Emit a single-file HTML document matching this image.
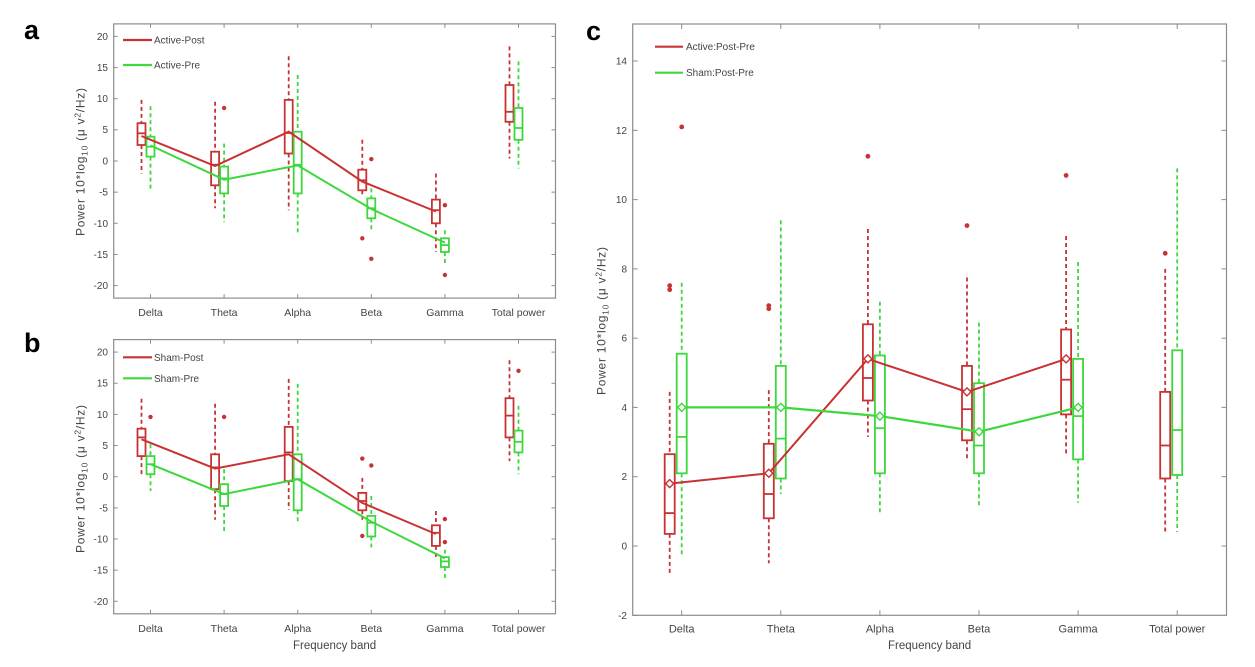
<!DOCTYPE html>
<html><head><meta charset="utf-8"><style>
html,body{margin:0;padding:0;background:#fff;}
svg{display:block;}
text{font-family:"Liberation Sans",Arial,sans-serif;fill:#444;}
.ax{fill:none;stroke:#8c8c8c;stroke-width:1.2;}
.tk{stroke:#8c8c8c;stroke-width:1;}
.r{stroke:#c83232;fill:none;stroke-width:1.8;}
.g{stroke:#3cd83c;fill:none;stroke-width:1.8;}
.d{stroke-dasharray:4 3;}
.ro{fill:#c83232;}
.go{fill:#3cd83c;}
.lab{font-size:10px;}
.xl{font-size:10.5px;text-anchor:middle;}
.yl{font-size:10px;text-anchor:end;}
</style></head><body>
<svg width="1255" height="667" viewBox="0 0 1255 667" xmlns="http://www.w3.org/2000/svg">
<rect width="1255" height="667" fill="#fff"/>

<!-- panel letters -->
<text x="24" y="39" style="font-size:27px;font-weight:bold;fill:#000">a</text>
<text x="24" y="352" style="font-size:27px;font-weight:bold;fill:#000">b</text>
<text x="586" y="40" style="font-size:27px;font-weight:bold;fill:#000">c</text>

<!-- ================= PANEL A ================= -->
<rect class="ax" x="113.7" y="23.9" width="441.8" height="274.2"/>
<g class="tk">
<line x1="113.7" x2="117.7" y1="36.4" y2="36.4"/><line x1="113.7" x2="117.7" y1="67.55" y2="67.55"/><line x1="113.7" x2="117.7" y1="98.7" y2="98.7"/><line x1="113.7" x2="117.7" y1="129.85" y2="129.85"/><line x1="113.7" x2="117.7" y1="161" y2="161"/><line x1="113.7" x2="117.7" y1="192.15" y2="192.15"/><line x1="113.7" x2="117.7" y1="223.3" y2="223.3"/><line x1="113.7" x2="117.7" y1="254.45" y2="254.45"/><line x1="113.7" x2="117.7" y1="285.6" y2="285.6"/>
<line x1="551.5" x2="555.5" y1="36.4" y2="36.4"/><line x1="551.5" x2="555.5" y1="67.55" y2="67.55"/><line x1="551.5" x2="555.5" y1="98.7" y2="98.7"/><line x1="551.5" x2="555.5" y1="129.85" y2="129.85"/><line x1="551.5" x2="555.5" y1="161" y2="161"/><line x1="551.5" x2="555.5" y1="192.15" y2="192.15"/><line x1="551.5" x2="555.5" y1="223.3" y2="223.3"/><line x1="551.5" x2="555.5" y1="254.45" y2="254.45"/><line x1="551.5" x2="555.5" y1="285.6" y2="285.6"/>
<line x1="150.5" x2="150.5" y1="298.1" y2="294.1"/><line x1="224.1" x2="224.1" y1="298.1" y2="294.1"/><line x1="297.7" x2="297.7" y1="298.1" y2="294.1"/><line x1="371.3" x2="371.3" y1="298.1" y2="294.1"/><line x1="444.9" x2="444.9" y1="298.1" y2="294.1"/><line x1="518.5" x2="518.5" y1="298.1" y2="294.1"/>
<line x1="150.5" x2="150.5" y1="23.9" y2="27.9"/><line x1="224.1" x2="224.1" y1="23.9" y2="27.9"/><line x1="297.7" x2="297.7" y1="23.9" y2="27.9"/><line x1="371.3" x2="371.3" y1="23.9" y2="27.9"/><line x1="444.9" x2="444.9" y1="23.9" y2="27.9"/><line x1="518.5" x2="518.5" y1="23.9" y2="27.9"/>
</g>
<g class="yl">
<text x="108" y="40">20</text><text x="108" y="71">15</text><text x="108" y="102">10</text><text x="108" y="133">5</text><text x="108" y="164.5">0</text><text x="108" y="195.5">-5</text><text x="108" y="227">-10</text><text x="108" y="258">-15</text><text x="108" y="289">-20</text>
</g>
<g class="xl">
<text x="150.5" y="316">Delta</text><text x="224.1" y="316">Theta</text><text x="297.7" y="316">Alpha</text><text x="371.3" y="316">Beta</text><text x="444.9" y="316">Gamma</text><text x="518.5" y="316">Total power</text>
</g>
<text transform="translate(84.5,162) rotate(-90)" style="font-size:12px;text-anchor:middle" textLength="148">Power 10*log<tspan style="font-size:8.5px" dy="3">10</tspan><tspan dy="-3"> (μ v</tspan><tspan style="font-size:8.5px" dy="-4">2</tspan><tspan dy="4">/Hz)</tspan></text>
<!-- legend a -->
<line x1="123" x2="152" y1="40" y2="40" class="r" style="stroke-width:2.2"/>
<text x="154" y="43.5" class="lab">Active-Post</text>
<line x1="123" x2="152" y1="65" y2="65" class="g" style="stroke-width:2.2"/>
<text x="154" y="68.5" class="lab">Active-Pre</text>

<!-- red boxes a -->
<g class="r">
<rect x="137.5" y="123.2" width="8" height="21.8"/><line x1="137.5" x2="145.5" y1="133.3" y2="133.3"/>
<line class="d" x1="141.5" x2="141.5" y1="99.9" y2="123.2"/><line class="d" x1="141.5" x2="141.5" y1="145" y2="173.5"/>
<rect x="211.1" y="151.7" width="8" height="33.6"/><line x1="211.1" x2="219.1" y1="164.7" y2="164.7"/>
<line class="d" x1="215.1" x2="215.1" y1="101.8" y2="151.7"/><line class="d" x1="215.1" x2="215.1" y1="185.3" y2="208.3"/>
<rect x="284.7" y="99.9" width="8" height="53.6"/><line x1="284.7" x2="292.7" y1="133" y2="133"/>
<line class="d" x1="288.7" x2="288.7" y1="56.3" y2="99.9"/><line class="d" x1="288.7" x2="288.7" y1="153.5" y2="210.2"/>
<rect x="358.3" y="169.7" width="8" height="20.6"/><line x1="358.3" x2="366.3" y1="180.3" y2="180.3"/>
<line class="d" x1="362.3" x2="362.3" y1="139.8" y2="169.7"/><line class="d" x1="362.3" x2="362.3" y1="190.3" y2="196.5"/>
<rect x="431.9" y="199.6" width="8" height="23.7"/><line x1="431.9" x2="439.9" y1="210.2" y2="210.2"/>
<line class="d" x1="435.9" x2="435.9" y1="173.5" y2="199.6"/><line class="d" x1="435.9" x2="435.9" y1="223.3" y2="252"/>
<rect x="505.5" y="85" width="8" height="36.8"/><line x1="505.5" x2="513.5" y1="111.8" y2="111.8"/>
<line class="d" x1="509.5" x2="509.5" y1="46.4" y2="85"/><line class="d" x1="509.5" x2="509.5" y1="121.8" y2="158.5"/>
</g>
<g class="ro">
<circle cx="224.1" cy="108" r="2.2"/><circle cx="362.3" cy="238.3" r="2.2"/><circle cx="371.3" cy="159.1" r="2.2"/><circle cx="371.3" cy="258.8" r="2.2"/><circle cx="444.9" cy="205.2" r="2.2"/><circle cx="444.9" cy="275" r="2.2"/>
</g>
<!-- green boxes a -->
<g class="g">
<rect x="146.5" y="136.7" width="8" height="19.9"/><line x1="146.5" x2="154.5" y1="146.7" y2="146.7"/>
<line class="d" x1="150.5" x2="150.5" y1="106.2" y2="136.7"/><line class="d" x1="150.5" x2="150.5" y1="156.6" y2="190.3"/>
<rect x="220.1" y="166.6" width="8" height="26.8"/><line x1="220.1" x2="228.1" y1="178.4" y2="178.4"/>
<line class="d" x1="224.1" x2="224.1" y1="143.6" y2="166.6"/><line class="d" x1="224.1" x2="224.1" y1="193.4" y2="222.1"/>
<rect x="293.7" y="131.7" width="8" height="61.7"/><line x1="293.7" x2="301.7" y1="164.7" y2="164.7"/>
<line class="d" x1="297.7" x2="297.7" y1="75" y2="131.7"/><line class="d" x1="297.7" x2="297.7" y1="193.4" y2="233.3"/>
<rect x="367.3" y="198.4" width="8" height="19.9"/><line x1="367.3" x2="375.3" y1="208.3" y2="208.3"/>
<line class="d" x1="371.3" x2="371.3" y1="188.4" y2="198.4"/><line class="d" x1="371.3" x2="371.3" y1="218.3" y2="230.2"/>
<rect x="440.9" y="238.3" width="8" height="13.7"/><line x1="440.9" x2="448.9" y1="245.1" y2="245.1"/>
<line class="d" x1="444.9" x2="444.9" y1="230.3" y2="238.3"/><line class="d" x1="444.9" x2="444.9" y1="252" y2="263.8"/>
<rect x="514.5" y="108" width="8" height="31.8"/><line x1="514.5" x2="522.5" y1="128" y2="128"/>
<line class="d" x1="518.5" x2="518.5" y1="61.3" y2="108"/><line class="d" x1="518.5" x2="518.5" y1="139.8" y2="168.5"/>
</g>
<!-- mean lines a -->
<polyline class="r" style="stroke-width:2" points="141.5,136.1 215.1,166 288.7,131.7 362.3,181.6 435.9,211.5"/>
<polyline class="g" style="stroke-width:2" points="150.5,145.4 224.1,179.7 297.7,165.4 371.3,209 444.9,242.6"/>

<!-- ================= PANEL B ================= -->
<rect class="ax" x="113.7" y="339.6" width="441.8" height="274.2"/>
<g class="tk">
<line x1="113.7" x2="117.7" y1="352.1" y2="352.1"/><line x1="113.7" x2="117.7" y1="383.25" y2="383.25"/><line x1="113.7" x2="117.7" y1="414.4" y2="414.4"/><line x1="113.7" x2="117.7" y1="445.55" y2="445.55"/><line x1="113.7" x2="117.7" y1="476.7" y2="476.7"/><line x1="113.7" x2="117.7" y1="507.85" y2="507.85"/><line x1="113.7" x2="117.7" y1="539" y2="539"/><line x1="113.7" x2="117.7" y1="570.15" y2="570.15"/><line x1="113.7" x2="117.7" y1="601.3" y2="601.3"/>
<line x1="551.5" x2="555.5" y1="352.1" y2="352.1"/><line x1="551.5" x2="555.5" y1="383.25" y2="383.25"/><line x1="551.5" x2="555.5" y1="414.4" y2="414.4"/><line x1="551.5" x2="555.5" y1="445.55" y2="445.55"/><line x1="551.5" x2="555.5" y1="476.7" y2="476.7"/><line x1="551.5" x2="555.5" y1="507.85" y2="507.85"/><line x1="551.5" x2="555.5" y1="539" y2="539"/><line x1="551.5" x2="555.5" y1="570.15" y2="570.15"/><line x1="551.5" x2="555.5" y1="601.3" y2="601.3"/>
<line x1="150.5" x2="150.5" y1="613.8" y2="609.8"/><line x1="224.1" x2="224.1" y1="613.8" y2="609.8"/><line x1="297.7" x2="297.7" y1="613.8" y2="609.8"/><line x1="371.3" x2="371.3" y1="613.8" y2="609.8"/><line x1="444.9" x2="444.9" y1="613.8" y2="609.8"/><line x1="518.5" x2="518.5" y1="613.8" y2="609.8"/>
<line x1="150.5" x2="150.5" y1="339.6" y2="343.6"/><line x1="224.1" x2="224.1" y1="339.6" y2="343.6"/><line x1="297.7" x2="297.7" y1="339.6" y2="343.6"/><line x1="371.3" x2="371.3" y1="339.6" y2="343.6"/><line x1="444.9" x2="444.9" y1="339.6" y2="343.6"/><line x1="518.5" x2="518.5" y1="339.6" y2="343.6"/>
</g>
<g class="yl">
<text x="108" y="355.6">20</text><text x="108" y="386.7">15</text><text x="108" y="417.9">10</text><text x="108" y="449">5</text><text x="108" y="480.2">0</text><text x="108" y="511.3">-5</text><text x="108" y="542.5">-10</text><text x="108" y="573.6">-15</text><text x="108" y="604.8">-20</text>
</g>
<g class="xl">
<text x="150.5" y="632">Delta</text><text x="224.1" y="632">Theta</text><text x="297.7" y="632">Alpha</text><text x="371.3" y="632">Beta</text><text x="444.9" y="632">Gamma</text><text x="518.5" y="632">Total power</text>
</g>
<text x="334.6" y="649" style="font-size:11.5px;text-anchor:middle">Frequency band</text>
<text transform="translate(84.5,479) rotate(-90)" style="font-size:12px;text-anchor:middle" textLength="148">Power 10*log<tspan style="font-size:8.5px" dy="3">10</tspan><tspan dy="-3"> (μ v</tspan><tspan style="font-size:8.5px" dy="-4">2</tspan><tspan dy="4">/Hz)</tspan></text>
<line x1="123" x2="152" y1="357.3" y2="357.3" class="r" style="stroke-width:2.2"/>
<text x="154" y="360.8" class="lab">Sham-Post</text>
<line x1="123" x2="152" y1="378.3" y2="378.3" class="g" style="stroke-width:2.2"/>
<text x="154" y="381.8" class="lab">Sham-Pre</text>

<g class="r">
<rect x="137.5" y="428.7" width="8" height="27.4"/><line x1="137.5" x2="145.5" y1="437.4" y2="437.4"/>
<line class="d" x1="141.5" x2="141.5" y1="398.8" y2="428.7"/><line class="d" x1="141.5" x2="141.5" y1="456.1" y2="476.1"/>
<rect x="211.1" y="454.3" width="8" height="34.9"/><line x1="211.1" x2="219.1" y1="467.4" y2="467.4"/>
<line class="d" x1="215.1" x2="215.1" y1="403.8" y2="454.3"/><line class="d" x1="215.1" x2="215.1" y1="489.2" y2="519.7"/>
<rect x="284.7" y="426.9" width="8" height="54.2"/><line x1="284.7" x2="292.7" y1="452.4" y2="452.4"/>
<line class="d" x1="288.7" x2="288.7" y1="378.9" y2="426.9"/><line class="d" x1="288.7" x2="288.7" y1="481.1" y2="509.7"/>
<rect x="358.3" y="492.9" width="8" height="17.4"/><line x1="358.3" x2="366.3" y1="501" y2="501"/>
<line class="d" x1="362.3" x2="362.3" y1="477.9" y2="492.9"/><line class="d" x1="362.3" x2="362.3" y1="510.3" y2="519.7"/>
<rect x="431.9" y="525.3" width="8" height="20.6"/><line x1="431.9" x2="439.9" y1="532.8" y2="532.8"/>
<line class="d" x1="435.9" x2="435.9" y1="511" y2="525.3"/><line class="d" x1="435.9" x2="435.9" y1="545.9" y2="559.6"/>
<rect x="505.5" y="398.2" width="8" height="39.2"/><line x1="505.5" x2="513.5" y1="415.6" y2="415.6"/>
<line class="d" x1="509.5" x2="509.5" y1="360.2" y2="398.2"/><line class="d" x1="509.5" x2="509.5" y1="437.4" y2="461.1"/>
</g>
<g class="ro">
<circle cx="150.5" cy="416.9" r="2.2"/><circle cx="224.1" cy="416.9" r="2.2"/><circle cx="362.3" cy="458.6" r="2.2"/><circle cx="371.3" cy="465.5" r="2.2"/><circle cx="362.3" cy="535.9" r="2.2"/><circle cx="444.9" cy="519.1" r="2.2"/><circle cx="444.9" cy="542.1" r="2.2"/><circle cx="518.5" cy="370.8" r="2.2"/>
</g>
<g class="g">
<rect x="146.5" y="456.1" width="8" height="18.1"/><line x1="146.5" x2="154.5" y1="464.2" y2="464.2"/>
<line class="d" x1="150.5" x2="150.5" y1="444.3" y2="456.1"/><line class="d" x1="150.5" x2="150.5" y1="474.2" y2="491"/>
<rect x="220.1" y="484.2" width="8" height="21.8"/><line x1="220.1" x2="228.1" y1="494.1" y2="494.1"/>
<line class="d" x1="224.1" x2="224.1" y1="469.2" y2="484.2"/><line class="d" x1="224.1" x2="224.1" y1="506" y2="531.5"/>
<rect x="293.7" y="454.3" width="8" height="56"/><line x1="293.7" x2="301.7" y1="479.2" y2="479.2"/>
<line class="d" x1="297.7" x2="297.7" y1="383.9" y2="454.3"/><line class="d" x1="297.7" x2="297.7" y1="510.3" y2="521.6"/>
<rect x="367.3" y="515.9" width="8" height="20.6"/><line x1="367.3" x2="375.3" y1="522.8" y2="522.8"/>
<line class="d" x1="371.3" x2="371.3" y1="496" y2="515.9"/><line class="d" x1="371.3" x2="371.3" y1="536.5" y2="548.3"/>
<rect x="440.9" y="557.1" width="8" height="9.9"/><line x1="440.9" x2="448.9" y1="561.4" y2="561.4"/>
<line class="d" x1="444.9" x2="444.9" y1="549.6" y2="557.1"/><line class="d" x1="444.9" x2="444.9" y1="567" y2="578.3"/>
<rect x="514.5" y="430.6" width="8" height="21.8"/><line x1="514.5" x2="522.5" y1="441.8" y2="441.8"/>
<line class="d" x1="518.5" x2="518.5" y1="405.7" y2="430.6"/><line class="d" x1="518.5" x2="518.5" y1="452.4" y2="474.2"/>
</g>
<polyline class="r" style="stroke-width:2" points="141.5,439.3 215.1,468.6 288.7,454.3 362.3,502.9 435.9,534"/>
<polyline class="g" style="stroke-width:2" points="150.5,464.2 224.1,494.1 297.7,479.2 371.3,521.6 444.9,558.3"/>

<!-- ================= PANEL C ================= -->
<rect class="ax" x="632.7" y="24" width="593.8" height="591.3"/>
<g class="tk">
<line x1="632.7" x2="637.7" y1="615.3" y2="615.3"/><line x1="632.7" x2="637.7" y1="546" y2="546"/><line x1="632.7" x2="637.7" y1="476.7" y2="476.7"/><line x1="632.7" x2="637.7" y1="407.4" y2="407.4"/><line x1="632.7" x2="637.7" y1="338.2" y2="338.2"/><line x1="632.7" x2="637.7" y1="268.9" y2="268.9"/><line x1="632.7" x2="637.7" y1="199.6" y2="199.6"/><line x1="632.7" x2="637.7" y1="130.3" y2="130.3"/><line x1="632.7" x2="637.7" y1="61" y2="61"/>
<line x1="1221.5" x2="1226.5" y1="546" y2="546"/><line x1="1221.5" x2="1226.5" y1="476.7" y2="476.7"/><line x1="1221.5" x2="1226.5" y1="407.4" y2="407.4"/><line x1="1221.5" x2="1226.5" y1="338.2" y2="338.2"/><line x1="1221.5" x2="1226.5" y1="268.9" y2="268.9"/><line x1="1221.5" x2="1226.5" y1="199.6" y2="199.6"/><line x1="1221.5" x2="1226.5" y1="130.3" y2="130.3"/><line x1="1221.5" x2="1226.5" y1="61" y2="61"/>
<line x1="681.7" x2="681.7" y1="615.3" y2="610.3"/><line x1="780.8" x2="780.8" y1="615.3" y2="610.3"/><line x1="879.9" x2="879.9" y1="615.3" y2="610.3"/><line x1="979" x2="979" y1="615.3" y2="610.3"/><line x1="1078.1" x2="1078.1" y1="615.3" y2="610.3"/><line x1="1177.2" x2="1177.2" y1="615.3" y2="610.3"/>
<line x1="681.7" x2="681.7" y1="24" y2="29"/><line x1="780.8" x2="780.8" y1="24" y2="29"/><line x1="879.9" x2="879.9" y1="24" y2="29"/><line x1="979" x2="979" y1="24" y2="29"/><line x1="1078.1" x2="1078.1" y1="24" y2="29"/><line x1="1177.2" x2="1177.2" y1="24" y2="29"/>
</g>
<g class="yl">
<text x="627" y="618.8">-2</text><text x="627" y="549.5">0</text><text x="627" y="480.2">2</text><text x="627" y="410.9">4</text><text x="627" y="341.7">6</text><text x="627" y="272.4">8</text><text x="627" y="203.1">10</text><text x="627" y="133.8">12</text><text x="627" y="64.5">14</text>
</g>
<g class="xl" style="font-size:11px">
<text x="681.7" y="632.5">Delta</text><text x="780.8" y="632.5">Theta</text><text x="879.9" y="632.5">Alpha</text><text x="979" y="632.5">Beta</text><text x="1078.1" y="632.5">Gamma</text><text x="1177.2" y="632.5">Total power</text>
</g>
<text x="929.6" y="649" style="font-size:11.5px;text-anchor:middle">Frequency band</text>
<text transform="translate(605.5,321) rotate(-90)" style="font-size:12px;text-anchor:middle" textLength="148">Power 10*log<tspan style="font-size:8.5px" dy="3">10</tspan><tspan dy="-3"> (μ v</tspan><tspan style="font-size:8.5px" dy="-4">2</tspan><tspan dy="4">/Hz)</tspan></text>
<line x1="655" x2="683" y1="46.7" y2="46.7" class="r" style="stroke-width:2.2"/>
<text x="686" y="50.2" class="lab">Active:Post-Pre</text>
<line x1="655" x2="683" y1="72.7" y2="72.7" class="g" style="stroke-width:2.2"/>
<text x="686" y="76.2" class="lab">Sham:Post-Pre</text>

<g class="r">
<rect x="664.7" y="454.2" width="10" height="79.7"/><line x1="664.7" x2="674.7" y1="513.1" y2="513.1"/>
<line class="d" x1="669.7" x2="669.7" y1="391.9" y2="454.2"/><line class="d" x1="669.7" x2="669.7" y1="533.9" y2="575.4"/>
<rect x="763.8" y="443.8" width="10" height="74.5"/><line x1="763.8" x2="773.8" y1="494" y2="494"/>
<line class="d" x1="768.8" x2="768.8" y1="390.1" y2="443.8"/><line class="d" x1="768.8" x2="768.8" y1="518.3" y2="563.3"/>
<rect x="862.9" y="324.3" width="10" height="76.2"/><line x1="862.9" x2="872.9" y1="378" y2="378"/>
<line class="d" x1="867.9" x2="867.9" y1="229" y2="324.3"/><line class="d" x1="867.9" x2="867.9" y1="400.5" y2="436.9"/>
<rect x="962" y="365.9" width="10" height="74.4"/><line x1="962" x2="972" y1="409.2" y2="409.2"/>
<line class="d" x1="967" x2="967" y1="277.5" y2="365.9"/><line class="d" x1="967" x2="967" y1="440.3" y2="459.4"/>
<rect x="1061.1" y="329.5" width="10" height="84.9"/><line x1="1061.1" x2="1071.1" y1="379.7" y2="379.7"/>
<line class="d" x1="1066.1" x2="1066.1" y1="236" y2="329.5"/><line class="d" x1="1066.1" x2="1066.1" y1="414.4" y2="455.9"/>
<rect x="1160.2" y="391.9" width="10" height="86.6"/><line x1="1160.2" x2="1170.2" y1="445.5" y2="445.5"/>
<line class="d" x1="1165.2" x2="1165.2" y1="268.9" y2="391.9"/><line class="d" x1="1165.2" x2="1165.2" y1="478.5" y2="532.1"/>
</g>
<g class="ro">
<circle cx="669.7" cy="289.7" r="2.4"/><circle cx="669.7" cy="285.6" r="2.4"/><circle cx="681.7" cy="126.9" r="2.4"/>
<circle cx="768.8" cy="308.7" r="2.4"/><circle cx="768.8" cy="305.6" r="2.4"/>
<circle cx="867.9" cy="156.3" r="2.4"/><circle cx="967" cy="225.6" r="2.4"/><circle cx="1066.1" cy="175.4" r="2.4"/><circle cx="1165.2" cy="253.3" r="2.4"/>
</g>
<g class="g">
<rect x="676.7" y="353.7" width="10" height="119.6"/><line x1="676.7" x2="686.7" y1="436.9" y2="436.9"/>
<line class="d" x1="681.7" x2="681.7" y1="282.7" y2="353.7"/><line class="d" x1="681.7" x2="681.7" y1="473.3" y2="554.7"/>
<rect x="775.8" y="365.9" width="10" height="112.6"/><line x1="775.8" x2="785.8" y1="438.6" y2="438.6"/>
<line class="d" x1="780.8" x2="780.8" y1="220.4" y2="365.9"/><line class="d" x1="780.8" x2="780.8" y1="478.5" y2="494"/>
<rect x="874.9" y="355.5" width="10" height="117.8"/><line x1="874.9" x2="884.9" y1="428.2" y2="428.2"/>
<line class="d" x1="879.9" x2="879.9" y1="301.8" y2="355.5"/><line class="d" x1="879.9" x2="879.9" y1="473.3" y2="514.8"/>
<rect x="974" y="383.2" width="10" height="90.1"/><line x1="974" x2="984" y1="445.5" y2="445.5"/>
<line class="d" x1="979" x2="979" y1="322.6" y2="383.2"/><line class="d" x1="979" x2="979" y1="473.3" y2="506.2"/>
<rect x="1073.1" y="358.9" width="10" height="100.5"/><line x1="1073.1" x2="1083.1" y1="416.1" y2="416.1"/>
<line class="d" x1="1078.1" x2="1078.1" y1="262" y2="358.9"/><line class="d" x1="1078.1" x2="1078.1" y1="459.4" y2="502.7"/>
<rect x="1172.2" y="350.3" width="10" height="124.7"/><line x1="1172.2" x2="1182.2" y1="430" y2="430"/>
<line class="d" x1="1177.2" x2="1177.2" y1="168.4" y2="350.3"/><line class="d" x1="1177.2" x2="1177.2" y1="475" y2="532.1"/>
</g>
<polyline class="r" style="stroke-width:2" points="669.7,483.6 768.8,473.3 867.9,358.9 967,391.9 1066.1,358.9"/>
<polyline class="g" style="stroke-width:2.2" points="681.7,407.4 780.8,407.4 879.9,416.1 979,431.7 1078.1,407.4"/>
<g class="r" style="stroke-width:1.4;fill:#fff">
<path d="M665.7 483.6L669.7 479.6 673.7 483.6 669.7 487.6Z"/><path d="M764.8 473.3L768.8 469.3 772.8 473.3 768.8 477.3Z"/><path d="M863.9 358.9L867.9 354.9 871.9 358.9 867.9 362.9Z"/><path d="M963 391.9L967 387.9 971 391.9 967 395.9Z"/><path d="M1062.1 358.9L1066.1 354.9 1070.1 358.9 1066.1 362.9Z"/>
</g>
<g class="g" style="stroke-width:1.4;fill:#fff">
<path d="M677.7 407.4L681.7 403.4 685.7 407.4 681.7 411.4Z"/><path d="M776.8 407.4L780.8 403.4 784.8 407.4 780.8 411.4Z"/><path d="M875.9 416.1L879.9 412.1 883.9 416.1 879.9 420.1Z"/><path d="M975 431.7L979 427.7 983 431.7 979 435.7Z"/><path d="M1074.1 407.4L1078.1 403.4 1082.1 407.4 1078.1 411.4Z"/>
</g>
</svg>
</body></html>
